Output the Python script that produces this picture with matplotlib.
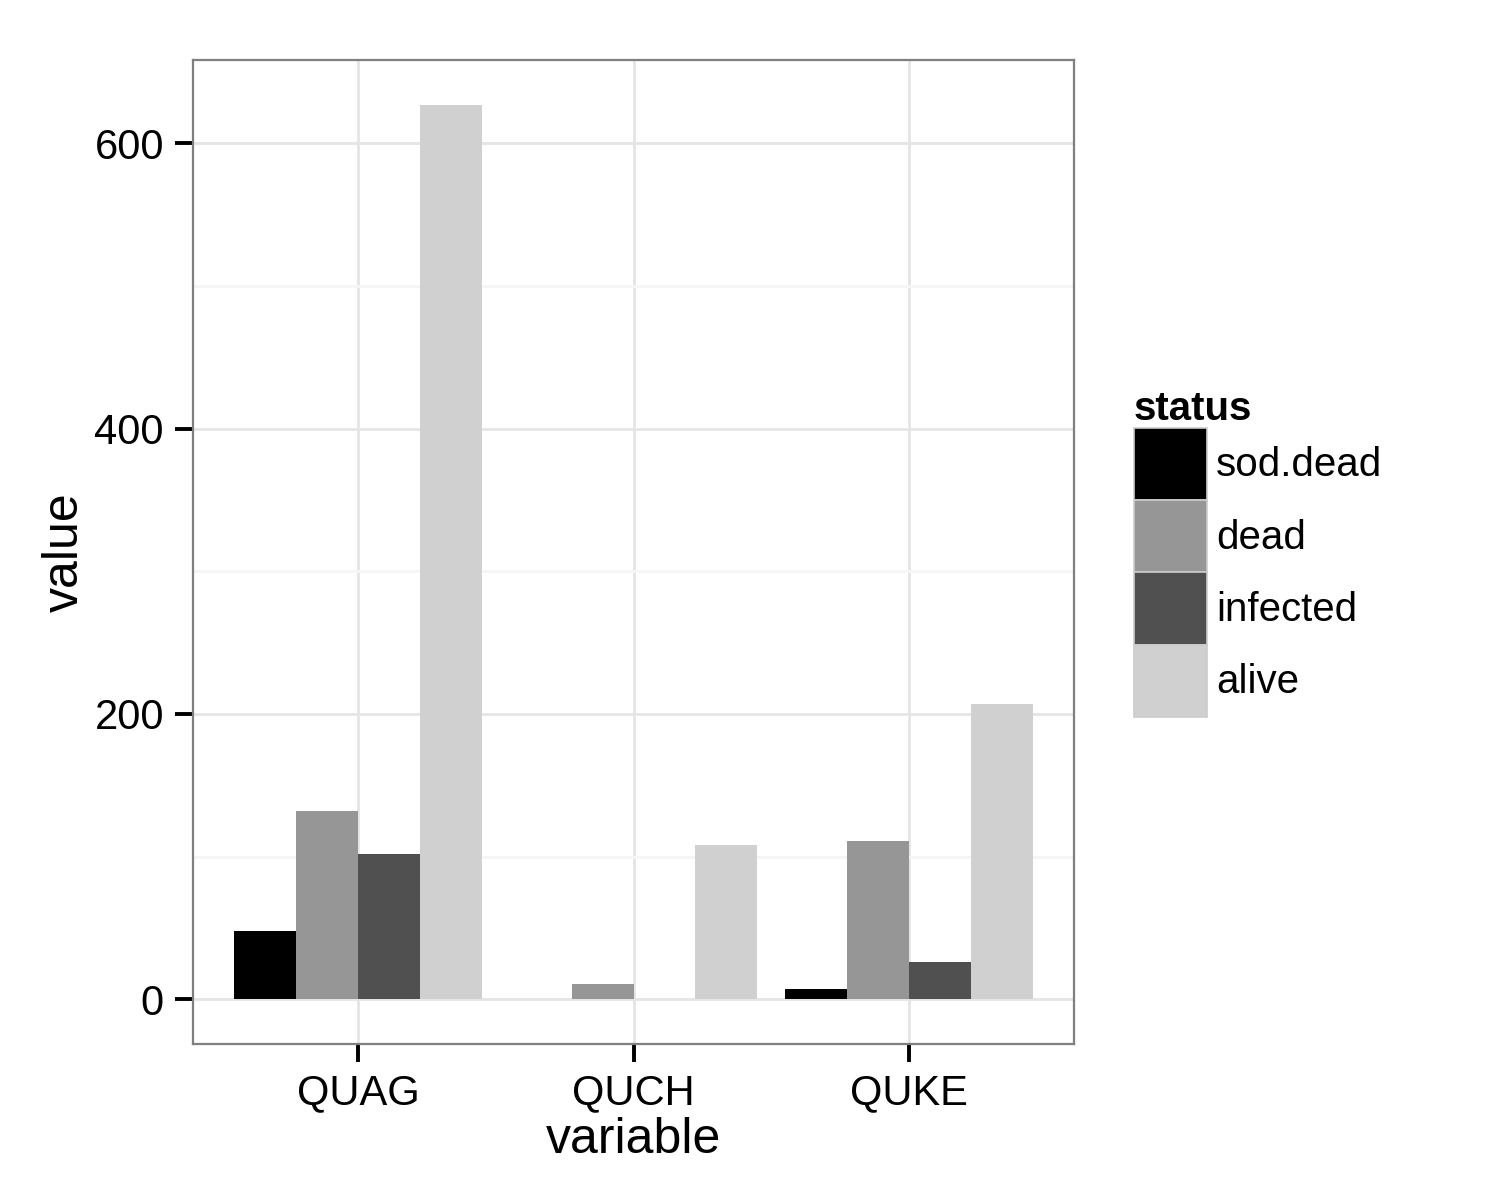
import numpy as np
import matplotlib
matplotlib.use("Agg")
import matplotlib.pyplot as plt
from matplotlib.patches import Patch

plt.rcParams['font.family'] = ['Liberation Sans', 'DejaVu Sans']

# data
variables = ["QUAG", "QUCH", "QUKE"]
statuses = ["sod.dead", "dead", "infected", "alive"]
sod_dead = [48, 0, 7]
dead = [132, 11, 111]
infected = [102, 0, 26]
alive = [627, 108, 207]
colors = ["#000000", "#969696", "#505050", "#d0d0d0"]

series = [sod_dead, dead, infected, alive]

fig = plt.figure(figsize=(7.5, 6), dpi=200)
ax = fig.add_axes([0.1287, 0.13, 0.716 - 0.1287, 0.82])

x = np.arange(1, len(variables) + 1)
w = 0.9 / len(series)
for i, (vals, c) in enumerate(zip(series, colors)):
    ax.bar(x + (i - 1.5) * w, vals, width=w, color=c, zorder=3, linewidth=0)

ymax = max(max(s) for s in series)
pad = 0.05 * ymax
ax.set_ylim(-pad, ymax + pad)
ax.set_xlim(0.4, 3.6)

ax.set_xticks(x)
ax.set_xticklabels(variables)
ax.set_yticks([0, 200, 400, 600])
ax.set_yticks([100, 300, 500], minor=True)

ax.grid(True, which='major', color='#e5e5e5', linewidth=1.0, zorder=0)
ax.grid(True, which='minor', axis='y', color='#f5f5f5', linewidth=1.0, zorder=0)
ax.tick_params(axis='both', which='major', direction='out', length=6.5, width=1.4,
               color='black', labelsize=15)
ax.tick_params(axis='y', which='major', pad=4)
ax.tick_params(axis='x', which='major', pad=4)
ax.tick_params(axis='both', which='minor', length=0)
for sp in ax.spines.values():
    sp.set_color('#7f7f7f')
    sp.set_linewidth(0.8)

ax.set_xlabel("variable", fontsize=18, labelpad=1.5)
ax.set_ylabel("value", fontsize=18, labelpad=2.5)

handles = [Patch(facecolor=c, edgecolor='#cccccc', linewidth=0.6) for c in colors]
leg = fig.legend(handles, statuses, loc='upper left', bbox_to_anchor=(0.756, 0.675),
                 frameon=False, fontsize=14.5, title="status",
                 title_fontproperties={'weight': 'bold', 'size': 14.5},
                 alignment='left', handlelength=1.82, handleheight=2.38,
                 labelspacing=0.0, handletextpad=0.22, borderpad=0, borderaxespad=0)

fig.savefig("out.png", dpi=200, facecolor='white')
